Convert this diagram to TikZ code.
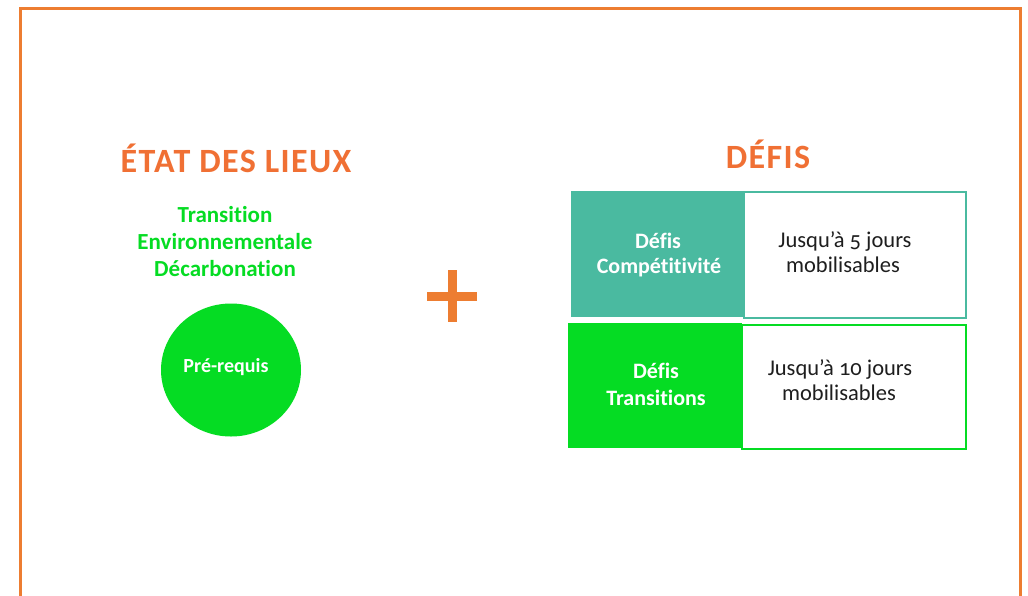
\documentclass[tikz,border=0pt]{standalone}
\usepackage{fontspec}
\usetikzlibrary{shapes.geometric}
\setmainfont{Carlito}[Numbers=OldStyle,Ligatures=NoCommon]
\newfontfamily\titlefont{Carlito}[LetterSpace=4,Ligatures=NoCommon]
\newcommand\brk{\kern0pt }
\definecolor{frameorange}{RGB}{237,125,49}
\definecolor{titleorange}{RGB}{240,112,52}
\definecolor{tealc}{RGB}{74,186,160}
\definecolor{greenc}{RGB}{5,220,35}
\definecolor{textdark}{RGB}{30,30,30}
\tikzset{
  title/.style={anchor=base,inner sep=0pt,text=titleorange,font=\titlefont\fontsize{34}{40}\selectfont\bfseries},
  greentxt/.style={anchor=base,inner sep=0pt,text=greenc,font=\fontsize{23}{27}\selectfont\bfseries},
  whitetxt/.style={anchor=base,inner sep=0pt,text=white,font=\fontsize{22}{26}\selectfont\bfseries},
  darktxt/.style={anchor=base,inner sep=0pt,text=textdark,font=\fontsize{22.5}{26}\selectfont},
  fillbox/.style={anchor=north west,inner sep=0pt,draw=none},
  outbox/.style={anchor=north west,inner sep=0pt,fill=white,line width=1.5pt},
}
\begin{document}
\begin{tikzpicture}[x=1pt,y=-1pt]
\useasboundingbox (0,0) rectangle (1028,595);
\fill[white] (0,0) rectangle (1028,595);
% frame
\draw[frameorange,line width=3pt] (20.5,600) -- (20.5,8.5) -- (1020,8.5) -- (1020,600);
% left part
\node[title] (etat) at (236,172) {ÉTAT DES LIEUX};
\node[greentxt] (l1) at (225,222) {Transit\brk ion};
\node[greentxt] (l2) at (225,249) {Environnementale};
\node[greentxt] (l3) at (225,276) {Décarbonat\brk ion};
\node[ellipse,fill=greenc,minimum width=140pt,minimum height=133pt,inner sep=0pt] (circ) at (231,370) {};
\node[anchor=base,inner sep=0pt,text=white,font=\fontsize{20}{24}\selectfont\bfseries] (pre) at (226,372) {Pré-requis};
% plus
\node[fill=frameorange,minimum width=50pt,minimum height=9pt,inner sep=0pt] (plush) at (452,296) {};
\node[fill=frameorange,minimum width=9pt,minimum height=52pt,inner sep=0pt] (plusv) at (452,296) {};
% right part
\node[title] (defis) at (768,168) {DÉFIS};
\node[outbox,draw=tealc,minimum width=222pt,minimum height=126pt] (b1w) at (743,191) {};
\node[fillbox,fill=tealc,minimum width=172pt,minimum height=126pt] (b1c) at (571,191) {};
\node[outbox,draw=greenc,minimum width=224pt,minimum height=124pt] (b2w) at (741,324) {};
\node[fillbox,fill=greenc,minimum width=174pt,minimum height=125pt] (b2c) at (568,323) {};
\node[whitetxt] (t1a) at (658,248) {Déf\brk is};
\node[whitetxt] (t1b) at (659,273) {Compét\brk it\brk ivité};
\node[darktxt] (t1c) at (845,247) {Jusqu’à 5 jours};
\node[darktxt] (t1d) at (843,272) {mobilisables};
\node[whitetxt] (t2a) at (656,378) {Déf\brk is};
\node[whitetxt] (t2b) at (656,405) {Transit\brk ions};
\node[darktxt] (t2c) at (840,375) {Jusqu’à 10 jours};
\node[darktxt] (t2d) at (839,400) {mobilisables};
\end{tikzpicture}
\end{document}
